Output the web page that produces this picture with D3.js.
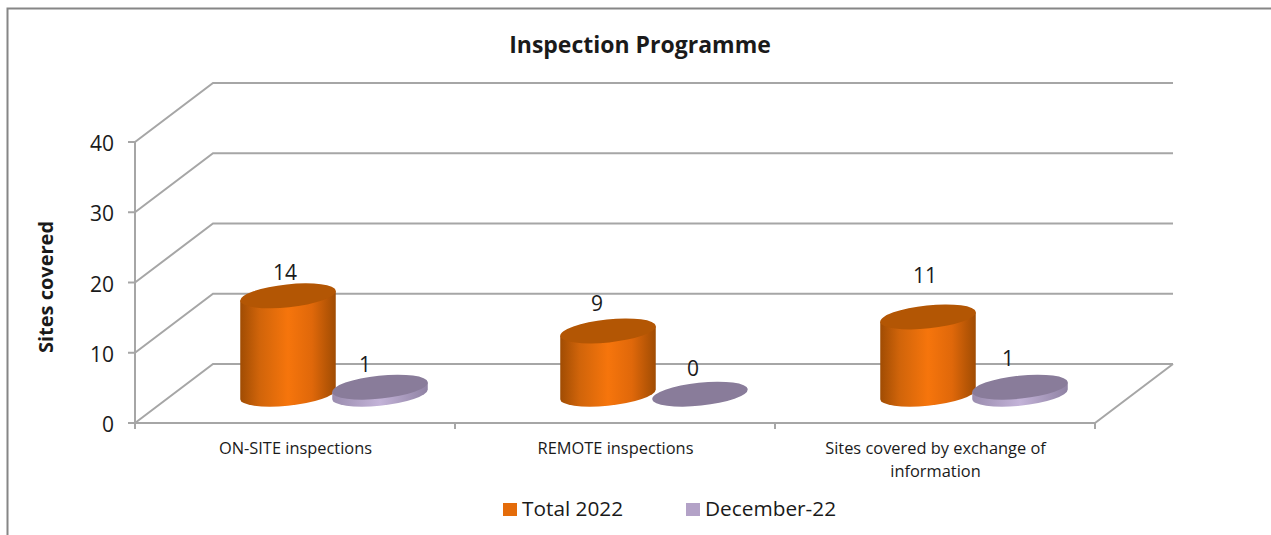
<!DOCTYPE html>
<html>
<head>
<meta charset="utf-8">
<script src="https://cdn.jsdelivr.net/npm/d3@7"></script>
<style>
  html, body { margin: 0; padding: 0; background: #fff; overflow: hidden; }
  text { font-family: "Open Sans", "Noto Sans", sans-serif; fill: #1a1a1a; }
</style>
</head>
<body>
<svg id="chart" width="1271" height="535"></svg>
<script>
const categories = ['ON-SITE inspections', 'REMOTE inspections', 'Sites covered by exchange of information']
const seriesNames = ['Total 2022', 'December-22']
const total2022 = [14, 9, 11]
const december22 = [1, 0, 1]
const yTicks = [0, 10, 20, 30, 40]

const svg = d3.select('#chart')

// plot box, front plane of the fake 3d chart
const plot = {left: 135, right: 1095, top: 142, bottom: 423}
const depth = {x: 78, y: 59}
const gridColor = '#a6a6a6'

const xScale = d3.scaleBand().domain(categories).range([plot.left, plot.right])
const seriesScale = d3.scaleBand().domain(seriesNames).range([68, 252])
const yScale = d3.scaleLinear().domain([0, 40]).range([plot.bottom, plot.top])
const unit = yScale(0) - yScale(1)

// outer frame, only top and left show in the source
svg.append('path')
    .attr('d', 'M7.5,535V8.5H1271')
    .attr('fill', 'none').attr('stroke', '#868686').attr('stroke-width', 2)

svg.append('text')
    .attr('x', 640).attr('y', 53)
    .attr('text-anchor', 'middle')
    .attr('font-size', 23).attr('font-weight', 700)
    .text('Inspection Programme')

// walls: diagonal + back line for each tick
const grid = svg.append('g').attr('fill', 'none').attr('stroke', gridColor).attr('stroke-width', 2)
yTicks.forEach(t => {
    const y = yScale(t)
    grid.append('path').attr('d', `M${plot.left},${y}L${plot.left + depth.x},${y - depth.y}H${plot.right + depth.x}`)
})
grid.append('path').attr('d', `M${plot.left},${plot.top}V${plot.bottom}H${plot.right}L${plot.right + depth.x},${plot.bottom - depth.y}`)

// ticks
yTicks.forEach(t => {
    grid.append('path').attr('d', `M${plot.left - 7},${yScale(t)}H${plot.left}`)
    svg.append('text')
        .attr('x', 114).attr('y', yScale(t) + 9)
        .attr('text-anchor', 'end').attr('font-size', 21)
        .text(t)
})
const tickXs = categories.map(c => xScale(c)).concat(plot.right)
tickXs.forEach(x => grid.append('path').attr('d', `M${x},${plot.bottom}v6`))

svg.append('text')
    .attr('transform', 'translate(53,287) rotate(-90)')
    .attr('text-anchor', 'middle')
    .attr('font-size', 20).attr('font-weight', 700)
    .text('Sites covered')

// category labels, wrapped by hand where excel wraps it
const catLines = {'Sites covered by exchange of information': ['Sites covered by exchange of', 'information']}
categories.forEach(c => {
    const lines = catLines[c] || [c]
    lines.forEach((line, i) => {
        svg.append('text')
            .attr('x', xScale(c) + xScale.bandwidth() / 2 + 0.5)
            .attr('y', 454 + i * 23)
            .attr('text-anchor', 'middle')
            .attr('font-size', 16.4)
            .attr('fill', '#262626')
            .text(line)
    })
})

// gradients for cylinder sides
const defs = svg.append('defs')
function sideGradient(id, stops) {
    const g = defs.append('linearGradient').attr('id', id)
    stops.forEach(s => g.append('stop').attr('offset', s[0]).attr('stop-color', s[1]))
}
sideGradient('sideOrange', [[0, '#a04c03'], [0.2, '#d0640a'], [0.5, '#f6750c'], [0.75, '#e0680a'], [1, '#a04c03']])
sideGradient('sidePurple', [[0, '#9a8cae'], [0.5, '#c3b3d8'], [1, '#8f82a3']])

const seriesStyle = [
    {values: total2022, side: 'url(#sideOrange)', top: '#b35604'},
    {values: december22, side: 'url(#sidePurple)', top: '#897c9a'}
]
const rx = 48, ry = 11.5, tilt = -6 * Math.PI / 180
const xExt = Math.sqrt(rx * rx * Math.cos(tilt) ** 2 + ry * ry * Math.sin(tilt) ** 2)
const yShift = (rx * rx - ry * ry) * Math.sin(tilt) * Math.cos(tilt) / xExt

// labels were dragged around by hand in the source chart
const labelNudge = [[[-3, -23], [-15, -22]], [[-11, -27], [-7, -25]], [[-3, -41], [-12, -28]]]

const baseY = yScale(0) - depth.y * 0.48 - 0.5
const barLayer = svg.append('g')
categories.forEach((c, ci) => {
    seriesNames.forEach((s, si) => {
        const v = seriesStyle[si].values[ci]
        const cx = xScale(c) + seriesScale(s) + seriesScale.bandwidth() / 2 + depth.x / 2
        const h = v * unit
        const top = baseY - h
        if (v > 0) {
            barLayer.append('path')
                .attr('d', `M${cx - xExt},${top - yShift}`
                    + `L${cx - xExt},${baseY - yShift}`
                    + `A${rx},${ry} -6 0 0 ${cx + xExt},${baseY + yShift}`
                    + `L${cx + xExt},${top + yShift}Z`)
                .attr('fill', seriesStyle[si].side)
        }
        barLayer.append('ellipse')
            .attr('rx', rx).attr('ry', ry)
            .attr('transform', `translate(${cx},${top}) rotate(-6)`)
            .attr('fill', seriesStyle[si].top)
        const n = labelNudge[ci][si]
        svg.append('text')
            .attr('x', cx + n[0]).attr('y', top + n[1] + 7)
            .attr('text-anchor', 'middle').attr('font-size', 21)
            .text(v)
    })
})

// legend
const legendX = [503, 686]
const legendFill = ['#e46c0a', '#b3a2c7']
seriesNames.forEach((s, i) => {
    svg.append('rect')
        .attr('x', legendX[i]).attr('y', 503)
        .attr('width', 14).attr('height', 13)
        .attr('fill', legendFill[i])
    svg.append('text')
        .attr('x', legendX[i] + 19).attr('y', 516)
        .attr('font-size', 20.8)
        .text(s)
})
</script>
</body>
</html>
